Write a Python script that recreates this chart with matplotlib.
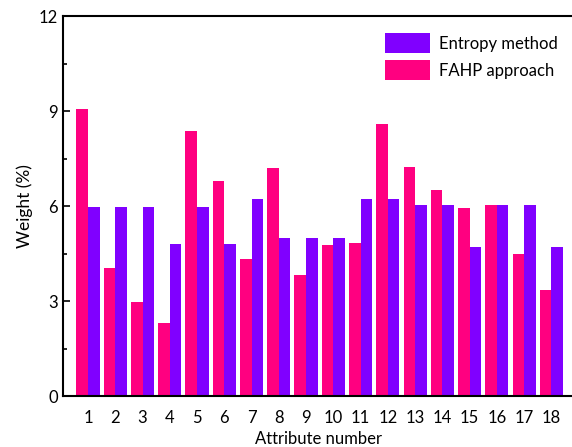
import numpy as np
import matplotlib
matplotlib.use('Agg')
import matplotlib.pyplot as plt
from matplotlib.ticker import MultipleLocator

plt.rcParams['font.family'] = ['Lato', 'DejaVu Sans']

attributes = list(range(1, 19))
fahp = [9.06, 4.04, 2.97, 2.31, 8.37, 6.79, 4.33, 7.20, 3.82,
        4.77, 4.83, 8.59, 7.23, 6.51, 5.94, 6.03, 4.48, 3.35]
entropy = [5.97, 5.97, 5.97, 4.80, 5.97, 4.80, 6.21, 4.99, 4.99,
           4.99, 6.21, 6.21, 6.03, 6.03, 4.71, 6.03, 6.03, 4.71]

fig = plt.figure(figsize=(5.72, 4.47), dpi=100)
ax = fig.add_axes([0.110, 0.114, 0.895, 0.850])

x = np.array(attributes)
w = 0.425
ax.bar(x + w / 2, entropy, w, color='#8000FF', label='Entropy method')
ax.bar(x - w / 2, fahp, w, color='#FF0080', label='FAHP approach')

ax.set_xlim(0.08, 18.86)
ax.set_ylim(0, 12)
ax.set_xticks(attributes)
ax.yaxis.set_major_locator(MultipleLocator(3))
ax.yaxis.set_minor_locator(MultipleLocator(1.5))
ax.tick_params(axis='x', length=0, labelsize=12, pad=10)
ax.tick_params(axis='y', which='both', direction='in', labelsize=12, width=1.2)
ax.tick_params(axis='y', which='major', length=5)
ax.tick_params(axis='y', which='minor', length=3)

ax.spines['right'].set_visible(False)
for s in ['left', 'top', 'bottom']:
    ax.spines[s].set_linewidth(1.5)

ax.set_xlabel('Attribute number', fontsize=12, labelpad=4)
ax.set_ylabel('Weight (%)', fontsize=12.5, labelpad=4)

ax.legend(loc='upper right', bbox_to_anchor=(0.995, 0.995), frameon=False,
          fontsize=12, handlelength=2.7, handleheight=1.5, handletextpad=0.5,
          labelspacing=0.4)

fig.savefig('out.png', dpi=100)
